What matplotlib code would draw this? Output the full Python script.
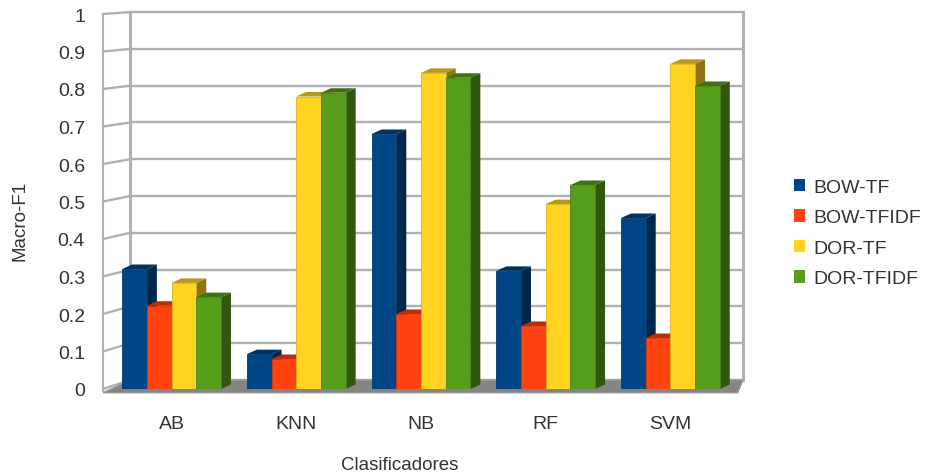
import numpy as np
import matplotlib
matplotlib.use("Agg")
import matplotlib.pyplot as plt
from matplotlib.patches import Polygon, Patch
import matplotlib.colors as mcolors

categories = ["AB", "KNN", "NB", "RF", "SVM"]
series_names = ["BOW-TF", "BOW-TFIDF", "DOR-TF", "DOR-TFIDF"]
bow_tf = [0.32, 0.093, 0.68, 0.315, 0.456]
bow_tfidf = [0.222, 0.08, 0.20, 0.168, 0.136]
dor_tf = [0.283, 0.78, 0.843, 0.493, 0.867]
dor_tfidf = [0.245, 0.79, 0.83, 0.544, 0.808]
series_values = [bow_tf, bow_tfidf, dor_tf, dor_tfidf]
colors = ["#004586", "#ff420e", "#ffd320", "#579d1c"]
yticks = np.round(np.arange(0, 1.01, 0.1), 1)
ytick_labels = ["0" if v == 0 else ("1" if v == 1 else "%.1f" % v) for v in yticks]

plt.rcParams['font.family'] = ['Liberation Sans', 'DejaVu Sans']
TXT = "#333333"
GRID = "#b0b0b0"

W, H = 928, 477
fig = plt.figure(figsize=(W / 100, H / 100), dpi=100)
# front plane of the pseudo 3d box
ax = fig.add_axes([103 / W, (H - 390) / H, 636 / W, 375 / H])
ax.set_xlim(-0.55, 4.55)
ax.set_ylim(0, 1)
for s in ax.spines.values():
    s.set_visible(False)

# back wall geometry (data units)
bx0, bx1 = -0.333, 4.582
def back_y(v):
    return 0.024 + 0.981 * v

# back wall gridlines and left wall lines
for v in yticks:
    ax.plot([bx0, bx1], [back_y(v), back_y(v)], color=GRID, lw=1.7, zorder=1, clip_on=False,
            solid_capstyle='butt')
    ax.plot([-0.55, bx0], [v, back_y(v)], color=GRID, lw=1.7, zorder=1, clip_on=False)
ax.plot([-0.55, -0.55], [-0.005, 1], color=GRID, lw=1.5, zorder=1, clip_on=False)
ax.plot([bx0, bx0], [back_y(0), back_y(1)], color=GRID, lw=2.2, zorder=1, clip_on=False)
ax.plot([bx1, bx1], [back_y(0), back_y(1)], color=GRID, lw=2.2, zorder=1, clip_on=False)

# floor
floor = Polygon([(-0.55, -0.01), (4.54, -0.01), (bx1, back_y(0)), (bx0, back_y(0))],
                closed=True, facecolor="#858585", edgecolor="#9a9a9a", lw=1, zorder=2, clip_on=False)
ax.add_patch(floor)

# bars with side and top faces
x = np.arange(len(categories))
w = 0.198
ddx, ddy = 0.08, 0.012
z = 3
for i, (vals, c) in enumerate(zip(series_values, colors)):
    rgb = np.array(mcolors.to_rgb(c))
    side_c = rgb * 0.55
    top_c = rgb * 0.72
    xs = x + (i - 1.5) * w
    for xc, v in zip(xs, vals):
        xl, xr = xc - w / 2, xc + w / 2
        side = Polygon([(xr, 0), (xr, v), (xr + ddx, v + ddy), (xr + ddx, ddy)],
                       closed=True, facecolor=side_c, edgecolor='none', zorder=z)
        top = Polygon([(xl, v), (xr, v), (xr + ddx, v + ddy), (xl + ddx, v + ddy)],
                      closed=True, facecolor=top_c, edgecolor='none', zorder=z)
        ax.add_patch(side)
        ax.add_patch(top)
    ax.bar(xs, vals, width=w, color=c, edgecolor=rgb * 0.85, linewidth=0.6, zorder=z)

ax.set_yticks(yticks)
ax.set_yticklabels(ytick_labels)
ax.set_xticks(x)
ax.set_xticklabels(categories)
ax.tick_params(axis='y', length=0, pad=13, labelsize=14, labelcolor=TXT)
ax.tick_params(axis='x', length=0, pad=19, labelsize=14, labelcolor=TXT)

fig.text(20 / W, 1 - 221 / H, "Macro-F1", rotation=90, ha='center', va='center',
         fontsize=13.5, color=TXT)
fig.text(400 / W, 1 - 466 / H, "Clasificadores", ha='center', va='center',
         fontsize=13.5, color=TXT)

handles = [Patch(facecolor=c, edgecolor='none') for c in colors]
fig.legend(handles, series_names, loc='center left', bbox_to_anchor=(786 / W, 1 - 234 / H),
           frameon=False, fontsize=14, labelcolor=TXT, handlelength=0.6, handleheight=0.6,
           handletextpad=0.4, labelspacing=0.69, borderaxespad=0)

fig.savefig("out.png", dpi=100)
